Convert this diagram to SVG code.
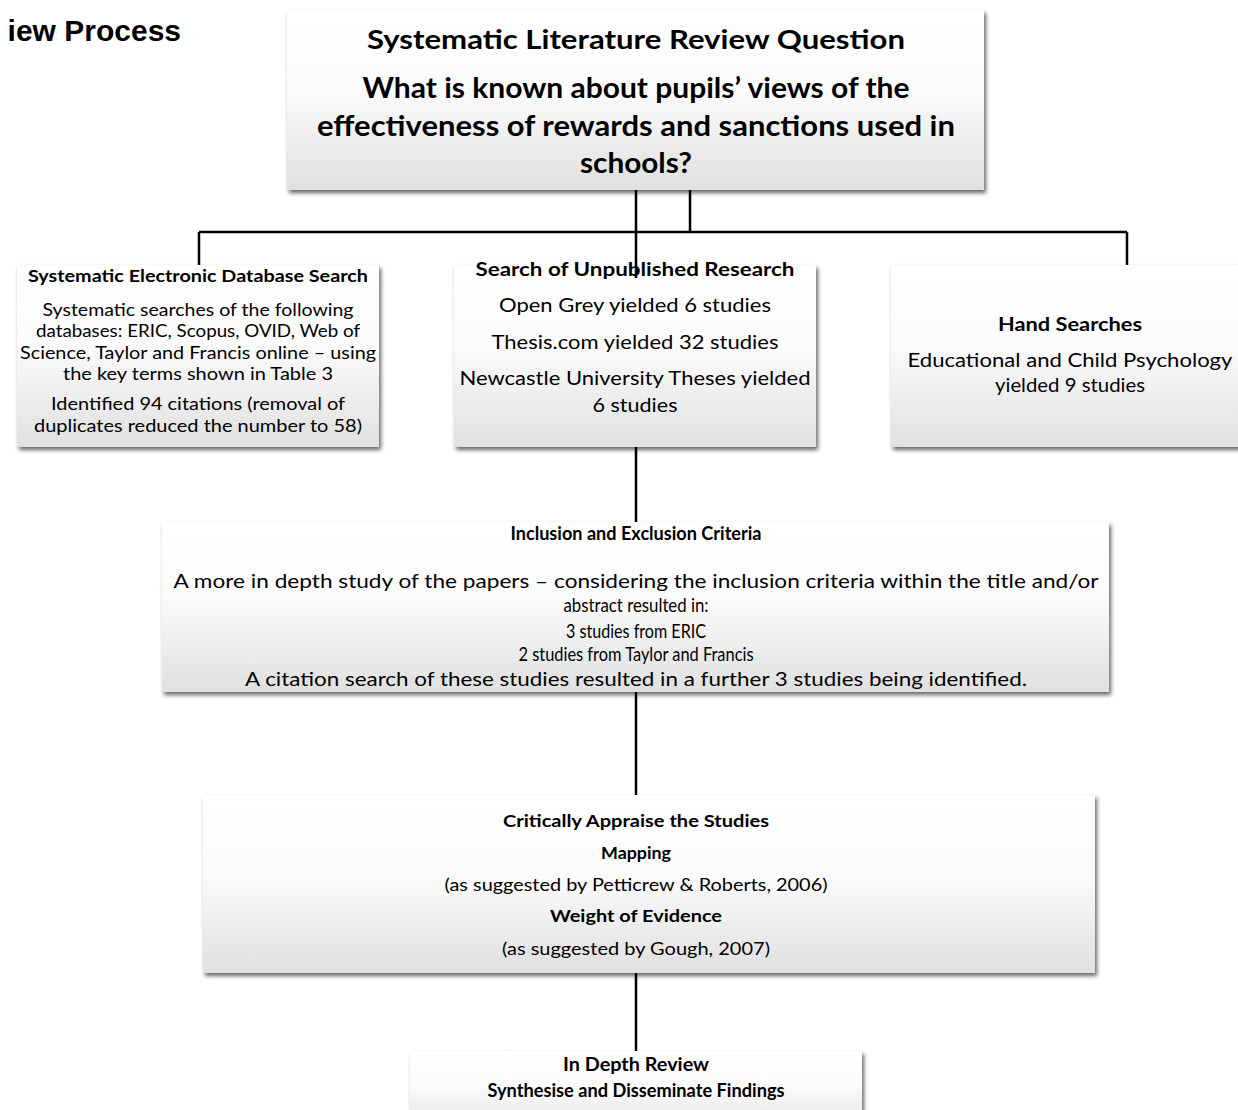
<svg xmlns="http://www.w3.org/2000/svg" width="1238" height="1110" viewBox="0 0 1238 1110">
<defs>
<linearGradient id="g" x1="0" y1="0" x2="0" y2="1">
<stop offset="0" stop-color="#ffffff"/>
<stop offset="0.45" stop-color="#fbfbfb"/>
<stop offset="1" stop-color="#e0e0e0"/>
</linearGradient>
<filter id="sh" x="-5%" y="-10%" width="115%" height="130%">
<feDropShadow dx="2" dy="3" stdDeviation="2" flood-color="#000" flood-opacity="0.6"/>
</filter>
</defs>
<style>
.box{fill:url(#g);filter:url(#sh)}
.t{font-family:Lato,"Open Sans",sans-serif;fill:#000;text-anchor:middle}
.b{font-weight:bold}
.c{stroke:#000;stroke-width:2.5;fill:none}
</style>
<rect width="1238" height="1110" fill="#fff"/>
<text x="181" y="41" font-family="Liberation Sans,Arial,sans-serif" font-weight="bold" font-size="30" text-anchor="end">iew Process</text>

<g id="connectors-back">
<path class="c" d="M636 447V522M636 692V795M636 973V1051"/>
</g>

<g id="n-question">
<rect class="box" x="287" y="10" width="697" height="180"/>
<text class="t b" x="636" y="49" font-size="27" textLength="538" lengthAdjust="spacingAndGlyphs">Systematic Literature Review Question</text>
<text class="t b" x="636" y="98" font-size="28" textLength="547" lengthAdjust="spacingAndGlyphs">What is known about pupils’ views of the</text>
<text class="t b" x="636" y="136" font-size="28" textLength="638" lengthAdjust="spacingAndGlyphs">effectiveness of rewards and sanctions used in</text>
<text class="t b" x="636" y="173" font-size="28" textLength="112" lengthAdjust="spacingAndGlyphs">schools?</text>
</g>

<g id="n-database">
<rect class="box" x="17" y="265" width="362" height="182"/>
<text class="t b" x="198" y="282" font-size="17" textLength="340" lengthAdjust="spacingAndGlyphs">Systematic Electronic Database Search</text>
<text class="t" x="198" y="316" font-size="18" textLength="311" lengthAdjust="spacingAndGlyphs">Systematic searches of the following</text>
<text class="t" x="198" y="337" font-size="18" textLength="324" lengthAdjust="spacingAndGlyphs">databases: ERIC, Scopus, OVID, Web of</text>
<text class="t" x="198" y="359" font-size="18" textLength="356" lengthAdjust="spacingAndGlyphs">Science, Taylor and Francis online – using</text>
<text class="t" x="198" y="380" font-size="18" textLength="270" lengthAdjust="spacingAndGlyphs">the key terms shown in Table 3</text>
<text class="t" x="198" y="410" font-size="18" textLength="294" lengthAdjust="spacingAndGlyphs">Identified 94 citations (removal of</text>
<text class="t" x="198" y="432" font-size="18" textLength="328" lengthAdjust="spacingAndGlyphs">duplicates reduced the number to 58)</text>
</g>

<g id="n-unpublished">
<rect class="box" x="454" y="265" width="362" height="182"/>
<text class="t b" x="635" y="276" font-size="19.5" textLength="319" lengthAdjust="spacingAndGlyphs">Search of Unpublished Research</text>
<text class="t" x="635" y="312" font-size="19.5" textLength="272" lengthAdjust="spacingAndGlyphs">Open Grey yielded 6 studies</text>
<text class="t" x="635" y="349" font-size="19.5" textLength="287" lengthAdjust="spacingAndGlyphs">Thesis.com yielded 32 studies</text>
<text class="t" x="635" y="385" font-size="19.5" textLength="351" lengthAdjust="spacingAndGlyphs">Newcastle University Theses yielded</text>
<text class="t" x="635" y="412" font-size="19.5" textLength="85" lengthAdjust="spacingAndGlyphs">6 studies</text>
</g>

<g id="n-hand">
<rect class="box" x="891" y="265" width="352" height="182"/>
<text class="t b" x="1070" y="331" font-size="19.5" textLength="144" lengthAdjust="spacingAndGlyphs">Hand Searches</text>
<text class="t" x="1070" y="367" font-size="19.5" textLength="325" lengthAdjust="spacingAndGlyphs">Educational and Child Psychology</text>
<text class="t" x="1070" y="392" font-size="19.5" textLength="150" lengthAdjust="spacingAndGlyphs">yielded 9 studies</text>
</g>

<g id="n-criteria">
<rect class="box" x="162" y="522" width="947" height="170"/>
<text class="t b" x="636" y="540" font-size="18.5" textLength="251" lengthAdjust="spacingAndGlyphs">Inclusion and Exclusion Criteria</text>
<text class="t" x="636" y="588" font-size="19" textLength="925" lengthAdjust="spacingAndGlyphs">A more in depth study of the papers – considering the inclusion criteria within the title and/or</text>
<text class="t" x="636" y="612" font-size="19" textLength="145" lengthAdjust="spacingAndGlyphs">abstract resulted in:</text>
<text class="t" x="636" y="638" font-size="19" textLength="140" lengthAdjust="spacingAndGlyphs">3 studies from ERIC</text>
<text class="t" x="636" y="661" font-size="19" textLength="235" lengthAdjust="spacingAndGlyphs">2 studies from Taylor and Francis</text>
<text class="t" x="636" y="686" font-size="19" textLength="782" lengthAdjust="spacingAndGlyphs">A citation search of these studies resulted in a further 3 studies being identified.</text>
</g>

<g id="n-appraise">
<rect class="box" x="203" y="795" width="892" height="178"/>
<text class="t b" x="636" y="827" font-size="17" textLength="266" lengthAdjust="spacingAndGlyphs">Critically Appraise the Studies</text>
<text class="t b" x="636" y="859" font-size="17" textLength="70" lengthAdjust="spacingAndGlyphs">Mapping</text>
<text class="t" x="636" y="891" font-size="17" textLength="383" lengthAdjust="spacingAndGlyphs">(as suggested by Petticrew &amp; Roberts, 2006)</text>
<text class="t b" x="636" y="922" font-size="17" textLength="172" lengthAdjust="spacingAndGlyphs">Weight of Evidence</text>
<text class="t" x="636" y="955" font-size="17" textLength="268" lengthAdjust="spacingAndGlyphs">(as suggested by Gough, 2007)</text>
</g>

<g id="n-review">
<rect class="box" x="410" y="1051" width="452" height="80"/>
<text class="t b" x="636" y="1071" font-size="18" textLength="146" lengthAdjust="spacingAndGlyphs">In Depth Review</text>
<text class="t b" x="636" y="1097" font-size="18" textLength="297" lengthAdjust="spacingAndGlyphs">Synthesise and Disseminate Findings</text>
</g>

<g id="connectors">
<path class="c" d="M636 190V278M690 190V232M199 232H1127M199 232V265M1127 232V265"/>
</g>
</svg>
